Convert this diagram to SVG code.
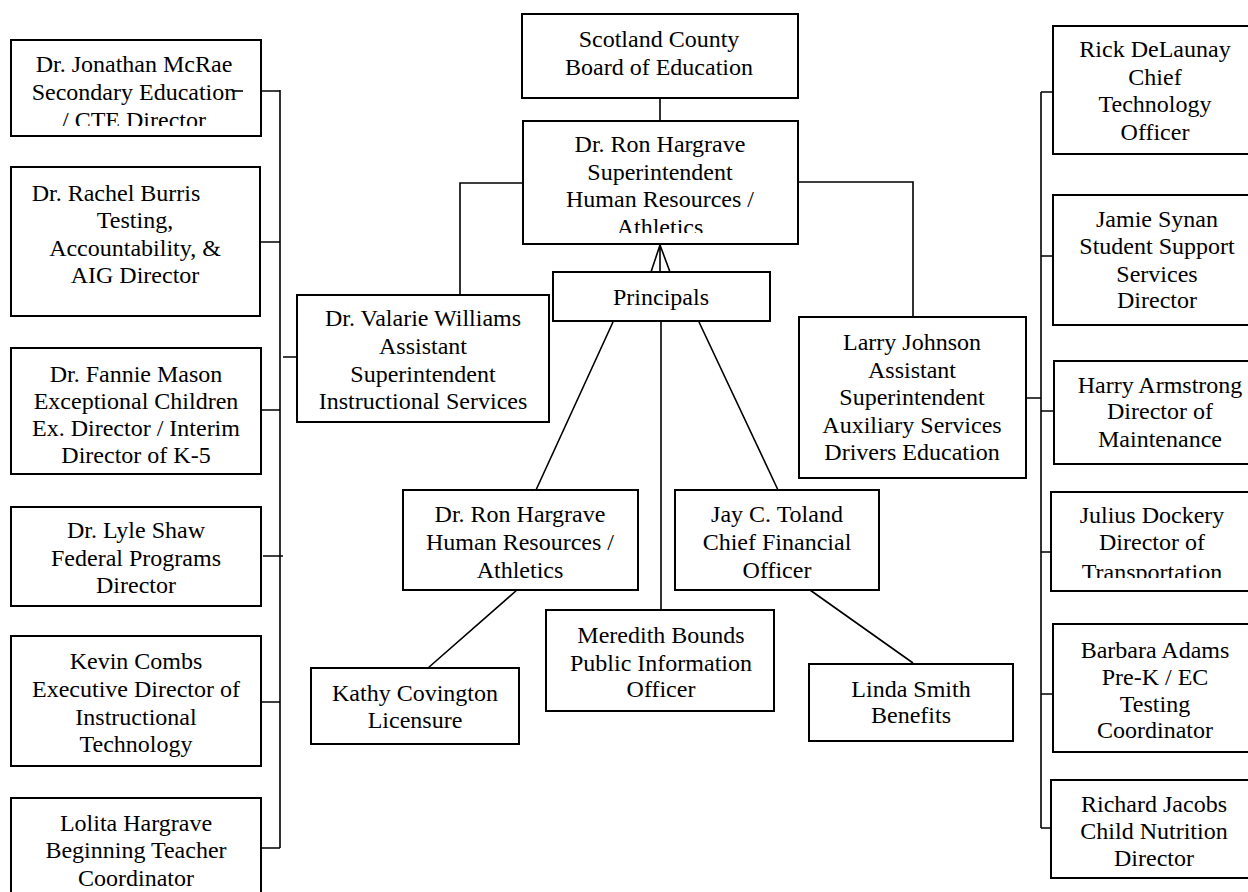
<svg xmlns="http://www.w3.org/2000/svg" width="1248" height="892" viewBox="0 0 1248 892">
<style>
.b{fill:#fff;stroke:#000;stroke-width:2}
.t{font-family:'Times New Roman','Liberation Serif','DejaVu Serif',serif;font-size:24px;fill:#000;text-anchor:middle}
.c{fill:none;stroke:#000;stroke-width:1.6}
</style>
<defs>
<clipPath id="cMc"><rect x="11" y="40" width="250" height="86"/></clipPath>
<clipPath id="cHa"><rect x="523" y="121" width="275" height="112"/></clipPath>
<clipPath id="cJu"><rect x="1051" y="492" width="200" height="86"/></clipPath>
</defs>
<rect width="1248" height="892" fill="#fff"/>
<g id="connectors">
<path class="c" d="M280 90V848M261 91H280M260 242H280M261 410H280M263 556H283M261 702H280M261 848H280M283 357H297"/>
<path class="c" d="M660 98V121M523 183H460V295M798 182H913V317"/>
<path class="c" d="M660 273V244M651 272L660 245L670 272"/>
<path class="c" d="M661 321V610M613 322L536 490M699 322L778 490M517 590L428 668M810 590L913 663"/>
<path class="c" d="M1041 92V828M1041 92H1053M1041 256H1053M1041 411H1054M1041 552H1051M1041 694H1053M1041 828H1051M1026 398H1041"/>
</g>
<g id="mcrae"><rect class="b" x="11" y="40" width="250" height="96"/>
<g clip-path="url(#cMc)"><text class="t"><tspan x="134" y="72">Dr. Jonathan McRae</tspan><tspan x="134" y="100">Secondary Education</tspan><tspan x="134" y="128">/ CTE Director</tspan></text></g>
<path class="c" d="M232 91H243"/></g>
<g id="burris"><rect class="b" x="11" y="167" width="249" height="149"/>
<text class="t"><tspan x="116" y="201">Dr. Rachel Burris</tspan><tspan x="135" y="228">Testing,</tspan><tspan x="135" y="256">Accountability, &amp;</tspan><tspan x="135" y="283">AIG Director</tspan></text></g>
<g id="mason"><rect class="b" x="11" y="348" width="250" height="126"/>
<text class="t"><tspan x="136" y="382">Dr. Fannie Mason</tspan><tspan x="136" y="409">Exceptional Children</tspan><tspan x="136" y="436">Ex. Director / Interim</tspan><tspan x="136" y="463">Director of K-5</tspan></text></g>
<g id="shaw"><rect class="b" x="11" y="507" width="250" height="99"/>
<text class="t"><tspan x="136" y="538">Dr. Lyle Shaw</tspan><tspan x="136" y="566">Federal Programs</tspan><tspan x="136" y="593">Director</tspan></text></g>
<g id="combs"><rect class="b" x="11" y="636" width="250" height="130"/>
<text class="t"><tspan x="136" y="669">Kevin Combs</tspan><tspan x="136" y="697">Executive Director of</tspan><tspan x="136" y="725">Instructional</tspan><tspan x="136" y="752">Technology</tspan></text></g>
<g id="lolita"><rect class="b" x="11" y="798" width="250" height="110"/>
<text class="t"><tspan x="136" y="831">Lolita Hargrave</tspan><tspan x="136" y="858">Beginning Teacher</tspan><tspan x="136" y="886">Coordinator</tspan></text></g>
<g id="board"><rect class="b" x="522" y="14" width="276" height="84"/>
<text class="t"><tspan x="659" y="47">Scotland County</tspan><tspan x="659" y="75">Board of Education</tspan></text></g>
<g id="supt"><rect class="b" x="523" y="121" width="275" height="123"/>
<g clip-path="url(#cHa)"><text class="t"><tspan x="660" y="152">Dr. Ron Hargrave</tspan><tspan x="660" y="180">Superintendent</tspan><tspan x="660" y="207">Human Resources /</tspan><tspan x="660" y="235">Athletics</tspan></text></g></g>
<g id="principals"><rect class="b" x="553" y="272" width="217" height="49"/>
<text class="t" x="661" y="305">Principals</text></g>
<g id="williams"><rect class="b" x="297" y="295" width="252" height="127"/>
<text class="t"><tspan x="423" y="326">Dr. Valarie Williams</tspan><tspan x="423" y="354">Assistant</tspan><tspan x="423" y="382">Superintendent</tspan><tspan x="423" y="409">Instructional Services</tspan></text></g>
<g id="johnson"><rect class="b" x="799" y="317" width="227" height="161"/>
<text class="t"><tspan x="912" y="350">Larry Johnson</tspan><tspan x="912" y="378">Assistant</tspan><tspan x="912" y="405">Superintendent</tspan><tspan x="912" y="433">Auxiliary Services</tspan><tspan x="912" y="460">Drivers Education</tspan></text></g>
<g id="hr"><rect class="b" x="403" y="490" width="235" height="100"/>
<text class="t"><tspan x="520" y="522">Dr. Ron Hargrave</tspan><tspan x="520" y="550">Human Resources /</tspan><tspan x="520" y="578">Athletics</tspan></text></g>
<g id="toland"><rect class="b" x="675" y="490" width="204" height="100"/>
<text class="t"><tspan x="777" y="522">Jay C. Toland</tspan><tspan x="777" y="550">Chief Financial</tspan><tspan x="777" y="578">Officer</tspan></text></g>
<g id="bounds"><rect class="b" x="546" y="610" width="228" height="101"/>
<text class="t"><tspan x="661" y="643">Meredith Bounds</tspan><tspan x="661" y="671">Public Information</tspan><tspan x="661" y="697">Officer</tspan></text></g>
<g id="covington"><rect class="b" x="311" y="668" width="208" height="76"/>
<text class="t"><tspan x="415" y="701">Kathy Covington</tspan><tspan x="415" y="728">Licensure</tspan></text></g>
<g id="smith"><rect class="b" x="809" y="664" width="204" height="77"/>
<text class="t"><tspan x="911" y="697">Linda Smith</tspan><tspan x="911" y="723">Benefits</tspan></text></g>
<g id="delaunay"><rect class="b" x="1053" y="26" width="205" height="128"/>
<text class="t"><tspan x="1155" y="57">Rick DeLaunay</tspan><tspan x="1155" y="85">Chief</tspan><tspan x="1155" y="112">Technology</tspan><tspan x="1155" y="140">Officer</tspan></text></g>
<g id="synan"><rect class="b" x="1053" y="195" width="205" height="130"/>
<text class="t"><tspan x="1157" y="227">Jamie Synan</tspan><tspan x="1157" y="254">Student Support</tspan><tspan x="1157" y="282">Services</tspan><tspan x="1157" y="308">Director</tspan></text></g>
<g id="armstrong"><rect class="b" x="1054" y="361" width="205" height="103"/>
<text class="t"><tspan x="1160" y="393">Harry Armstrong</tspan><tspan x="1160" y="419">Director of</tspan><tspan x="1160" y="447">Maintenance</tspan></text></g>
<g id="dockery"><rect class="b" x="1051" y="492" width="205" height="99"/>
<g clip-path="url(#cJu)"><text class="t"><tspan x="1152" y="523">Julius Dockery</tspan><tspan x="1152" y="550">Director of</tspan><tspan x="1152" y="580">Transportation</tspan></text></g></g>
<g id="adams"><rect class="b" x="1053" y="624" width="205" height="128"/>
<text class="t"><tspan x="1155" y="658">Barbara Adams</tspan><tspan x="1155" y="685">Pre-K / EC</tspan><tspan x="1155" y="712">Testing</tspan><tspan x="1155" y="738">Coordinator</tspan></text></g>
<g id="jacobs"><rect class="b" x="1051" y="780" width="205" height="98"/>
<text class="t"><tspan x="1154" y="812">Richard Jacobs</tspan><tspan x="1154" y="839">Child Nutrition</tspan><tspan x="1154" y="866">Director</tspan></text></g>
</svg>
